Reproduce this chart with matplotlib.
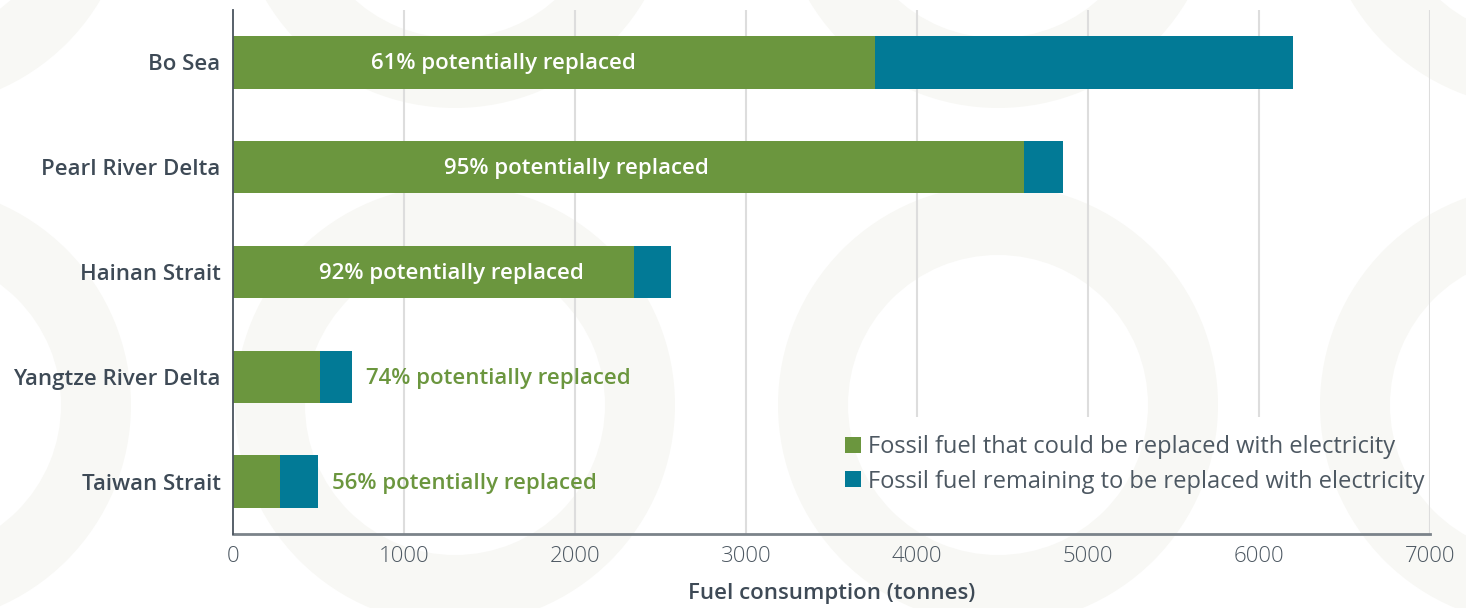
import numpy as np
import matplotlib
matplotlib.use('Agg')
import matplotlib.pyplot as plt
from matplotlib.patches import Annulus

# data (tonnes)
regions = ['Bo Sea', 'Pearl River Delta', 'Hainan Strait', 'Yangtze River Delta', 'Taiwan Strait']
replaced = [3755, 4625, 2345, 510, 272]
remaining = [2445, 230, 215, 187, 225]
pct_labels = ['61% potentially replaced', '95% potentially replaced', '92% potentially replaced',
              '74% potentially replaced', '56% potentially replaced']
xticks = [0, 1000, 2000, 3000, 4000, 5000, 6000, 7000]

GREEN = '#6b963e'
TEAL = '#027a96'
DARK = '#3e4a56'
GREY = '#4d5862'

plt.rcParams['font.family'] = ['Open Sans', 'DejaVu Sans']

fig = plt.figure(figsize=(14.66, 6.08), dpi=100)

# faint decorative rings in the background (pixel space)
bg = fig.add_axes([0, 0, 1, 1], zorder=0)
bg.set_xlim(0, 1466)
bg.set_ylim(608, 0)
bg.axis('off')
for cy in [-112, 405]:
    for cx in [-89, 455, 998, 1540]:
        bg.add_patch(Annulus((cx, cy), 220, 70, color='#f8f8f5', lw=0))

ax = fig.add_axes([233/1466, 1-534/608, (1430-233)/1466, (534-10)/608], zorder=1)
ax.set_facecolor('none')

y = np.arange(len(regions))
ax.barh(y, replaced, height=0.5, color=GREEN, zorder=3,
        label='Fossil fuel that could be replaced with electricity')
ax.barh(y, remaining, left=replaced, height=0.5, color=TEAL, zorder=3,
        label='Fossil fuel remaining to be replaced with electricity')

# percentage labels: inside the bar for the big ones, after the bar for small ones
inside_x = [1580, 2010, 1280]
for i in range(len(regions)):
    total = replaced[i] + remaining[i]
    if i < 3:
        ax.text(inside_x[i], y[i] + 0.01, pct_labels[i], color='white', fontsize=16,
                fontweight='semibold', ha='center', va='center', zorder=4)
    else:
        ax.text(total + 80, y[i] + 0.02, pct_labels[i], color=GREEN, fontsize=16,
                fontweight='semibold', ha='left', va='center', zorder=4)

ax.set_xlim(0, 7000)
ax.set_ylim(len(regions) - 0.5, -0.5)
ax.set_xticks(xticks)
ax.set_xticklabels([str(t) for t in xticks])
ax.set_yticks(y)
ax.set_yticklabels(regions)

# vertical gridlines; the ones under the legend stop above it
for t in xticks[1:]:
    ymin = 3.38 if 4000 <= t <= 6000 else len(regions) - 0.5
    ax.vlines(t, -0.5, ymin, color='#dddddd', lw=1.5, zorder=1)

for s in ['top', 'right']:
    ax.spines[s].set_visible(False)
ax.spines['left'].set_color('#4a545e')
ax.spines['left'].set_linewidth(1.3)
ax.spines['bottom'].set_color('#7b838a')
ax.spines['bottom'].set_linewidth(2)
ax.spines['left'].set_zorder(5)

ax.tick_params(axis='both', length=0)
ax.tick_params(axis='y', pad=9, labelsize=16, labelcolor=DARK)
ax.tick_params(axis='x', pad=9, labelsize=16, labelcolor=GREY)
for lab in ax.get_yticklabels():
    lab.set_fontweight('semibold')
for lab in ax.get_xticklabels():
    lab.set_fontweight('light')

ax.set_xlabel('Fuel consumption (tonnes)', fontsize=16, fontweight='semibold',
              color=DARK, labelpad=11)

leg = ax.legend(loc='upper left', bbox_to_anchor=(845/1466, 1-435/608),
                bbox_transform=fig.transFigure, frameon=False, fontsize=17,
                handlelength=0.68, handleheight=0.68, handletextpad=0.3,
                labelspacing=0.45, borderpad=0, borderaxespad=0)
for txt in leg.get_texts():
    txt.set_color(GREY)

fig.savefig('out.png', dpi=100)
